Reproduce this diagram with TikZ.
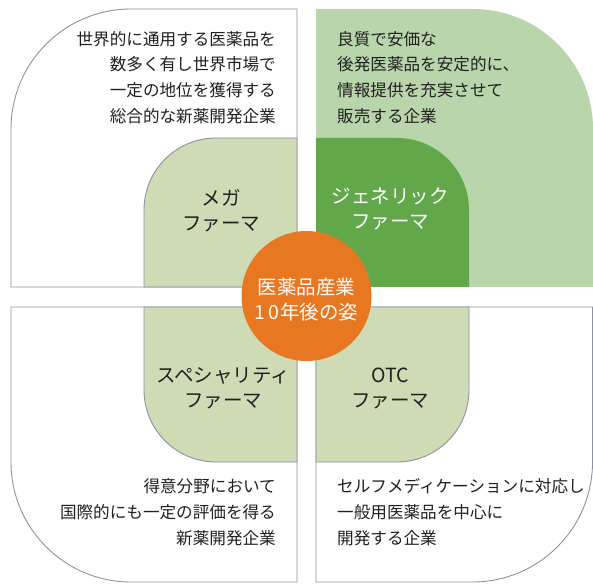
\documentclass[tikz,border=0pt]{standalone}
\usepackage{fontspec}
\setmainfont{Noto Sans CJK JP}
\definecolor{lightg}{RGB}{185,213,172}
\definecolor{darkg}{RGB}{98,168,75}
\definecolor{paleg}{RGB}{207,219,181}
\definecolor{orng}{RGB}{232,119,34}
\definecolor{bord}{RGB}{140,145,162}
\definecolor{txt}{RGB}{35,31,32}
\begin{document}
\begin{tikzpicture}[x=1pt,y=1pt,
  outerbox/.style={draw=bord,line width=0.9pt,fill=white},
  innerbox/.style={draw=bord,line width=0.9pt,fill=paleg},
  desc/.style={inner sep=0pt,text=txt,font=\fontsize{16.6}{25.8}\selectfont},
  lbl/.style={inner sep=0pt,text=txt,align=center,font=\fontsize{19.5}{25}\selectfont}]
\useasboundingbox (0,0) rectangle (593,583);
% outer quadrants
\draw[outerbox] (297,296) -- (11,296) -- (11,454) arc[start angle=180,end angle=90,radius=120] -- (297,574) -- cycle;
\fill[lightg] (316,296) -- (316,574) -- (473,574) arc[start angle=90,end angle=0,radius=120] -- (593,296) -- cycle;
\draw[outerbox] (297,276) -- (11,276) -- (11,121) arc[start angle=180,end angle=270,radius=120] -- (297,1) -- cycle;
\draw[outerbox] (316,276) -- (592.5,276) -- (592.5,121) arc[start angle=0,end angle=-90,radius=120] -- (316,1) -- cycle;
% inner boxes
\draw[innerbox] (297,296) -- (144,296) -- (144,373) arc[start angle=180,end angle=90,radius=72] -- (297,445) -- cycle;
\fill[darkg] (316,296) -- (316,445) -- (397,445) arc[start angle=90,end angle=0,radius=72] -- (469,296) -- cycle;
\draw[innerbox] (297,276) -- (144,276) -- (144,193) arc[start angle=180,end angle=270,radius=72] -- (297,121) -- cycle;
\draw[innerbox] (316,276) -- (469,276) -- (469,193) arc[start angle=0,end angle=-90,radius=72] -- (316,121) -- cycle;
% centre circle
\node[circle,fill=orng,minimum size=130pt,inner sep=0pt] (hub) at (306.5,287) {};
\node[lbl,text=white] (hubtxt) at (306.5,283.5) {医薬品産業\\1\hspace{3pt}0\hspace{1pt}年後の姿};
% labels
\node[lbl] (mega) at (221,372.5) {メガ\\ファーマ};
\node[lbl,text=white] (gene) at (390,374.5) {ジェネリック\\ファーマ};
\node[lbl] (spec) at (223,194.5) {スペシャリティ\\ファーマ};
\node[lbl] (otc) at (390,194.5) {OTC\\ファーマ};
% descriptions
\node[desc,align=right,anchor=east] (dmega) at (276,505.5) {世界的に通用する医薬品を\\数多く有し世界市場で\\一定の地位を獲得する\\総合的な新薬開発企業};
\node[desc,align=left,anchor=west] (dgene) at (337,505.5) {良質で安価な\\後発医薬品を安定的に、\\情報提供を充実させて\\販売する企業};
\node[desc,align=right,anchor=east] (dspec) at (276,71) {得意分野において\\国際的にも一定の評価を得る\\新薬開発企業};
\node[desc,align=left,anchor=west] (dotc) at (337,71) {セルフメディケーションに対応し\\一般用医薬品を中心に\\開発する企業};
\end{tikzpicture}
\end{document}
